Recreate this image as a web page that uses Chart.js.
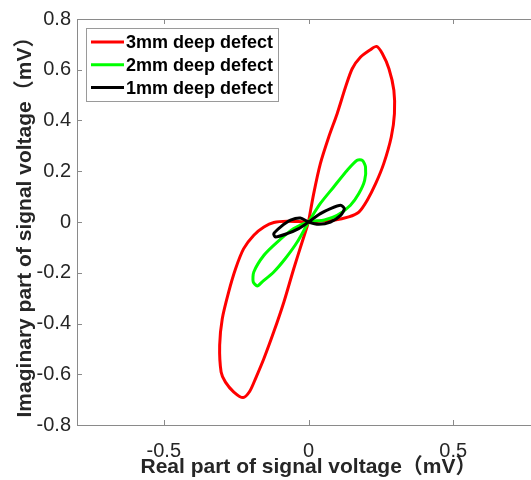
<!DOCTYPE html>
<html>
<head>
<meta charset="utf-8">
<script src="https://cdn.jsdelivr.net/npm/chart.js@4.4.0/dist/chart.umd.min.js"></script>
<style>
  html, body { margin: 0; padding: 0; background: #fff; overflow: hidden; }
  #wrap { width: 531px; height: 480px; overflow: hidden; }
</style>
</head>
<body>
<div id="wrap"><canvas id="myChart" width="540" height="480"></canvas></div>
<script>
// Eddy-current signal loops (real vs imaginary part), one closed loop per defect depth
const defect3mmRe = [0, 0.018, 0.041, 0.070, 0.099, 0.128, 0.151, 0.180, 0.214, 0.235,
  0.255, 0.278, 0.295, 0.297, 0.286, 0.260, 0.232, 0.203, 0.174, 0.139,
  0.087, 0.041, 0, -0.074, -0.120, -0.154, -0.189, -0.224, -0.252, -0.276,
  -0.298, -0.307, -0.302, -0.287, -0.258, -0.226, -0.203, -0.183, -0.154, -0.120,
  -0.085, -0.051, -0.022, -0.007, 0];
const defect3mmIm = [0, 0.112, 0.230, 0.335, 0.427, 0.532, 0.604, 0.650, 0.679, 0.692,
  0.664, 0.604, 0.519, 0.427, 0.335, 0.230, 0.151, 0.086, 0.039, 0.020,
  0.007, 0.004, 0, 0.003, -0.002, -0.020, -0.052, -0.105, -0.184, -0.276,
  -0.381, -0.486, -0.591, -0.631, -0.670, -0.692, -0.667, -0.617, -0.538, -0.433,
  -0.315, -0.184, -0.079, -0.026, 0];

const defect2mmRe = [0, 0.041, 0.087, 0.134, 0.168, 0.186, 0.197, 0.194, 0.174, 0.145,
  0.099, 0.055, 0, -0.051, -0.108, -0.154, -0.189, -0.191, -0.177, -0.160,
  -0.120, -0.080, -0.039, 0];
const defect2mmIm = [0, 0.073, 0.138, 0.204, 0.243, 0.243, 0.217, 0.164, 0.112, 0.066,
  0.026, 0.008, 0, -0.026, -0.079, -0.131, -0.197, -0.236, -0.252, -0.236,
  -0.197, -0.144, -0.079, 0];

const defect1mmRe = [0, 0.041, 0.076, 0.111, 0.124, 0.111, 0.076, 0.036, 0,
  -0.028, -0.062, -0.097, -0.120, -0.114, -0.074, -0.034, 0];
const defect1mmIm = [0, 0.033, 0.053, 0.066, 0.053, 0.026, 0.0, -0.009, 0,
  0.016, 0.007, -0.020, -0.046, -0.059, -0.046, -0.026, 0];

const seriesLabels = ['3mm deep defect', '2mm deep defect', '1mm deep defect'];
const seriesColors = ['#ff0000', '#00ff00', '#000000'];

const xTicks = [-0.5, 0, 0.5];
const yTicks = [-0.8, -0.6, -0.4, -0.2, 0, 0.2, 0.4, 0.6, 0.8];
const yTickLabels = ['-0.8', '-0.6', '-0.4', '-0.2', '0', '0.2', '0.4', '0.6', '0.8'];

const axisColor = '#8a8a8a';
const textColor = '#262626';
const fontFamily = "'Liberation Sans', Arial, 'Noto Sans CJK SC', sans-serif";

Chart.defaults.font.family = fontFamily;

function toPoints(re, im) {
  return re.map((v, i) => ({ x: v, y: im[i] }));
}

// box around the plot (top edge) plus inward tick marks
const frameTicks = {
  id: 'frameTicks',
  afterDraw(chart) {
    const { ctx, chartArea: a, scales: { x, y } } = chart;
    const len = 5;
    ctx.save();
    ctx.strokeStyle = axisColor;
    ctx.lineWidth = 1;
    ctx.beginPath();
    ctx.moveTo(a.left, a.top + 0.5);
    ctx.lineTo(a.right, a.top + 0.5);
    ctx.moveTo(a.right - 0.5, a.top);
    ctx.lineTo(a.right - 0.5, a.bottom);
    xTicks.forEach(v => {
      const px = Math.round(x.getPixelForValue(v)) + 0.5;
      ctx.moveTo(px, a.bottom);
      ctx.lineTo(px, a.bottom - len);
      ctx.moveTo(px, a.top);
      ctx.lineTo(px, a.top + len);
    });
    yTicks.forEach(v => {
      const py = Math.round(y.getPixelForValue(v)) + 0.5;
      ctx.moveTo(a.left, py);
      ctx.lineTo(a.left + len, py);
      ctx.moveTo(a.right, py);
      ctx.lineTo(a.right - len, py);
    });
    ctx.stroke();
    ctx.restore();
  }
};

// legend box in the upper-left corner of the plot
const boxLegend = {
  id: 'boxLegend',
  afterDraw(chart, args, opts) {
    const ctx = chart.ctx;
    ctx.save();
    ctx.fillStyle = '#ffffff';
    ctx.fillRect(opts.x, opts.y, opts.width, opts.height);
    ctx.strokeStyle = '#9a9a9a';
    ctx.lineWidth = 1;
    ctx.strokeRect(opts.x + 0.5, opts.y + 0.5, opts.width, opts.height);
    ctx.font = 'bold 18px ' + fontFamily;
    ctx.textBaseline = 'middle';
    ctx.textAlign = 'left';
    chart.data.datasets.forEach((ds, i) => {
      const yy = opts.y + opts.firstRow + i * opts.rowGap;
      ctx.strokeStyle = ds.borderColor;
      ctx.lineWidth = ds.borderWidth;
      ctx.beginPath();
      ctx.moveTo(opts.x + 5, yy);
      ctx.lineTo(opts.x + 38, yy);
      ctx.stroke();
      ctx.fillStyle = '#000000';
      ctx.fillText(ds.label, opts.x + 40, yy + 1);
    });
    ctx.restore();
  }
};

const series = [
  [defect3mmRe, defect3mmIm],
  [defect2mmRe, defect2mmIm],
  [defect1mmRe, defect1mmIm]
];

const datasets = series.map(([re, im], i) => ({
  label: seriesLabels[i],
  data: toPoints(re, im),
  borderColor: seriesColors[i],
  backgroundColor: seriesColors[i],
  borderWidth: 3,
  showLine: true,
  pointRadius: 0,
  tension: 0.25,
  fill: false,
  order: 3 - i
}));

const ctx = document.getElementById('myChart').getContext('2d');
const chart = new Chart(ctx, {
  type: 'scatter',
  data: { datasets: datasets },
  options: {
    responsive: false,
    animation: false,
    layout: { padding: { top: 19, right: 0, bottom: 0, left: 0 } },
    plugins: {
      legend: { display: false },
      tooltip: { enabled: false },
      boxLegend: { x: 86, y: 28, width: 192, height: 73, firstRow: 14, rowGap: 22.8 }
    },
    scales: {
      x: {
        type: 'linear',
        min: -0.8,
        max: 0.8,
        afterBuildTicks: scale => { scale.ticks = xTicks.map(v => ({ value: v })); },
        afterFit: scale => { scale.height = 55; },
        grid: { display: false, drawTicks: false },
        border: { display: true, color: axisColor, width: 1 },
        ticks: {
          padding: 14,
          color: textColor,
          font: { size: 20 },
          maxRotation: 0,
          callback: v => String(v)
        },
        title: {
          display: true,
          text: 'Real part of signal voltage（mV）',
          color: textColor,
          font: { size: 21, weight: 'bold' },
          padding: { top: 0, bottom: 0 }
        }
      },
      y: {
        type: 'linear',
        min: -0.8,
        max: 0.8,
        afterBuildTicks: scale => { scale.ticks = yTicks.map(v => ({ value: v })); },
        afterFit: scale => { scale.width = 77; },
        grid: { display: false, drawTicks: false },
        border: { display: true, color: axisColor, width: 1 },
        ticks: {
          padding: 6,
          color: textColor,
          font: { size: 20 },
          callback: (v, i) => yTickLabels[i]
        },
        title: {
          display: true,
          text: 'Imaginary part of signal voltage（mV）',
          color: textColor,
          font: { size: 21, weight: 'bold' },
          padding: { top: 13, bottom: 0 }
        }
      }
    }
  },
  plugins: [frameTicks, boxLegend]
});
</script>
</body>
</html>
